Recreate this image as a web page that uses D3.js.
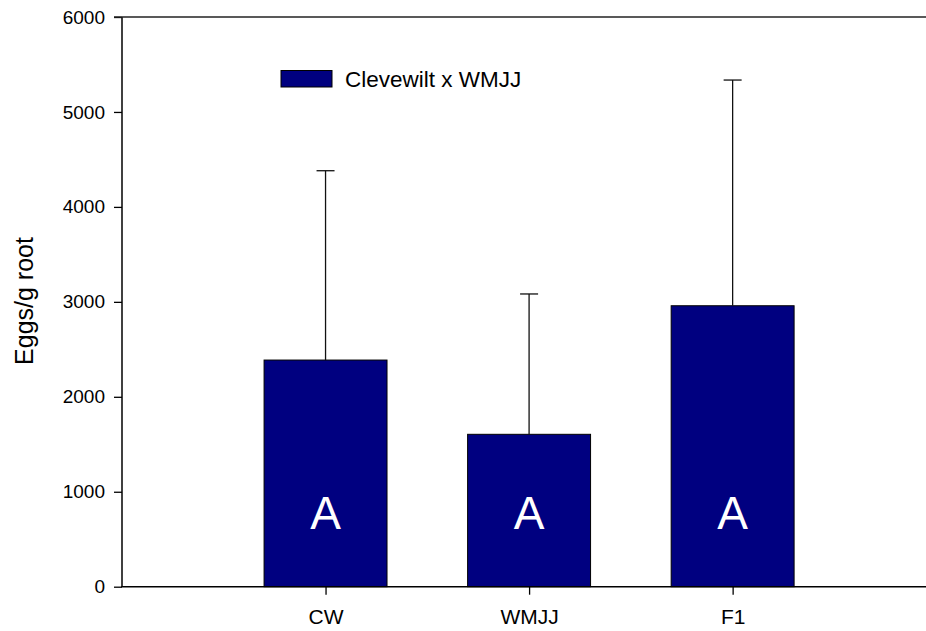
<!DOCTYPE html>
<html><head><meta charset="utf-8">
<script src="https://cdn.jsdelivr.net/npm/d3@7"></script>
<style>body{margin:0;background:#fff}svg{display:block}text{font-family:"Liberation Sans",Arial,sans-serif}</style>
</head><body>
<svg id="c" width="926" height="631"></svg>
<script>
const categories = ["CW", "WMJJ", "F1"];
const means = [2387, 1605, 2959];
const errors = [1994, 1478, 2377];
const letters = ["A", "A", "A"];
const yTicks = [0, 1000, 2000, 3000, 4000, 5000, 6000];
const seriesName = "Clevewilt x WMJJ";

const svg = d3.select("#c");
const x = d3.scaleLinear().domain([0, 3.95]).range([122, 926]);
const y = d3.scaleLinear().domain([0, 6000]).range([586.7, 17]);
const bw = 0.604;
const fill = "#000080";

// bars
svg.selectAll("rect.bar").data(means).join("rect")
  .attr("x", (d,i) => x(i+1-bw/2)).attr("width", x(bw)-x(0))
  .attr("y", d => y(d)).attr("height", d => y(0)-y(d))
  .attr("fill", fill).attr("stroke", "#000").attr("stroke-width", 1);

// error bars
const eg = svg.append("g").attr("stroke", "#111").attr("stroke-width", 1.3);
means.forEach((m,i) => {
  const cx = x(i+1);
  eg.append("line").attr("x1", cx).attr("x2", cx).attr("y1", y(m)).attr("y2", y(m+errors[i]));
  eg.append("line").attr("x1", cx-9).attr("x2", cx+9).attr("y1", y(m+errors[i])).attr("y2", y(m+errors[i]));
});

// letters
svg.selectAll("text.let").data(letters).join("text")
  .attr("x", (d,i) => x(i+1)).attr("y", 529).attr("text-anchor", "middle")
  .attr("fill", "#fff").attr("font-size", 46).text(d => d);

// axes
const yAxis = d3.axisLeft(y).tickValues(yTicks).tickSize(8).tickPadding(9).tickFormat(d3.format("d"));
const gy = svg.append("g").attr("transform", "translate(122,0)").call(yAxis);
gy.select(".domain").remove();
gy.selectAll("text").attr("font-size", 19).attr("fill", "#000");
gy.selectAll("line").attr("stroke", "#000").attr("stroke-width", 1.3);

const xAxis = d3.axisBottom(x).tickValues([1,2,3]).tickSize(8).tickPadding(14)
  .tickFormat(d => categories[d-1]);
const gx = svg.append("g").attr("transform", "translate(0,586.7)").call(xAxis);
gx.select(".domain").remove();
gx.selectAll("text").attr("font-size", 21).attr("fill", "#000");
gx.selectAll("line").attr("stroke", "#000").attr("stroke-width", 1.3);

// frame lines
const fr = svg.append("g").attr("stroke", "#000").attr("stroke-width", 1.5);
fr.append("line").attr("x1", 122).attr("x2", 122).attr("y1", 17).attr("y2", 587);
fr.append("line").attr("x1", 121.3).attr("x2", 926).attr("y1", 586.7).attr("y2", 586.7);
fr.append("line").attr("x1", 114).attr("x2", 926).attr("y1", 17).attr("y2", 17).attr("stroke", "#222");

// legend
svg.append("rect").attr("x", 281).attr("y", 70.5).attr("width", 51).attr("height", 16.5)
  .attr("fill", fill).attr("stroke", "#000").attr("stroke-width", 1);
svg.append("text").attr("x", 345).attr("y", 87).attr("font-size", 22.5).attr("fill", "#000").text(seriesName);

// y label
svg.append("text").attr("transform", "translate(33,301) rotate(-90)").attr("text-anchor", "middle")
  .attr("font-size", 25).attr("fill", "#000").text("Eggs/g root");
</script>
</body></html>
